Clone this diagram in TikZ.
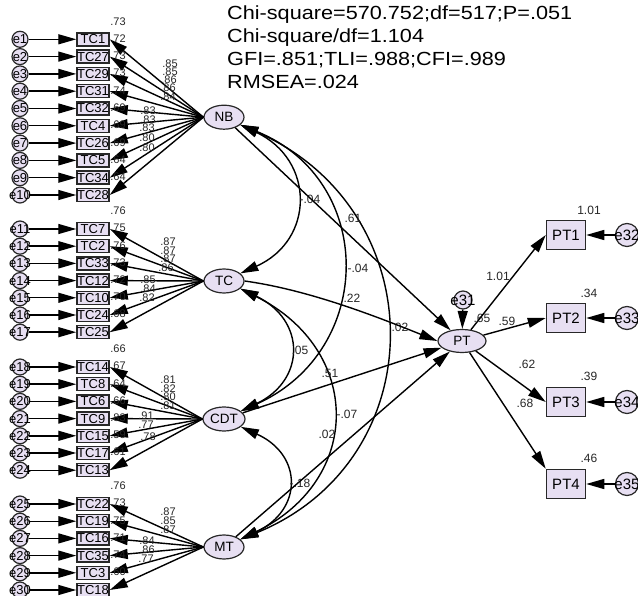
\documentclass[tikz,border=0pt]{standalone}
\usepackage{fontspec}
\setmainfont{Liberation Sans}
\newfontfamily\headfont[FakeStretch=1.14]{Liberation Sans}
\usetikzlibrary{calc}
\usetikzlibrary{shapes.geometric}
\usetikzlibrary{arrows.meta,positioning}

\definecolor{lav}{RGB}{231,223,242}
\definecolor{rim}{RGB}{40,40,40}

\tikzset{
  latent/.style={ellipse,draw=rim,line width=1.2pt,fill=lav,minimum width=40pt,minimum height=24pt,inner sep=0pt,font=\fontsize{13.5}{13.5}\selectfont},
  item/.style={rectangle,draw=rim,line width=1.5pt,fill=lav,minimum width=32pt,minimum height=13pt,inner sep=0pt,font=\fontsize{13}{13}\selectfont},
  pitem/.style={item,minimum width=39pt,minimum height=29pt,font=\fontsize{15}{15}\selectfont},
  err/.style={circle,draw=rim,line width=1.2pt,fill=lav,minimum size=16pt,inner sep=0pt,label={[font=\fontsize{13}{13}\selectfont]center:#1}},
  perr/.style={circle,draw=rim,line width=1.2pt,fill=lav,minimum size=23pt,inner sep=0pt,label={[font=\fontsize{15}{15}\selectfont]center:#1}},
  num/.style={inner sep=0pt,text=black!85,font=\fontsize{11}{11}\selectfont},
  pnum/.style={num,font=\fontsize{12}{12}\selectfont},
  hd/.style={anchor=base west,inner sep=0pt,font=\headfont\fontsize{19}{23}\selectfont},
  load/.style={-{Triangle[length=18pt,width=10pt]},line width=1.4pt},
  cov/.style={{Triangle[length=18pt,width=10pt]}-{Triangle[length=18pt,width=10pt]},line width=1.4pt},
}

\begin{document}
\begin{tikzpicture}[x=1pt,y=-1pt]

\useasboundingbox (0,0) rectangle (638,596);

%fit indices
\node[hd] (chi) at (227,19.3) {Chi-square=570.752;df=517;P=.051};
\node[hd] (ratio) at ($(chi.base west)+(0,23)$) {Chi-square/df=1.104};
\node[hd] (gfi) at ($(ratio.base west)+(0,23)$) {GFI=.851;TLI=.988;CFI=.989};
\node[hd] (rmsea) at ($(gfi.base west)+(0,23)$) {RMSEA=.024};

%latent factors
\node[latent] (NB) at (224,117.2) {NB};
\node[latent] (TC) at (224,281) {TC};
\node[latent,minimum width=42pt] (CDT) at (224,419) {CDT};
\node[latent] (MT) at (224,547) {MT};
\node[latent,minimum width=48pt,minimum height=23pt] (PT) at (462,341) {PT};

%%%%%%%

%items of NB
\foreach \nm/\ee/\rr/\lo/\lx/\ly [count=\k from 0] in {TC1/e1/.73/.85/170/64,TC27/e2/.72/.85/170/72,TC29/e3/.73/.86/169/80,TC31/e4/.73/.86/168/88,TC32/e5/.74/.84/168/97,TC4/e6/.69/.83/148/111,TC26/e7/.69/.83/148/119.5,TC5/e8/.69/.83/147/128,TC34/e9/.64/.80/147/138,TC28/e10/.64/.80/147/148}{
  \pgfmathsetmacro\y{39.3+17.3*\k}
  \node[item] (\nm) at (93,\y) {\nm};
  \node[err=\ee] (\ee) at (20,\y) {};
  \draw[load] (\ee) -- (\nm);
  \draw[load] (NB.west) -- (\nm.east);
  \node[num] at (118,\y-18) {\rr};
  \node[num] at (\lx,\ly) {\lo};
}

%items of TC
\foreach \nm/\ee/\rr/\lo/\lx/\ly [count=\k from 0] in {TC7/e11/.76/.87/168/242,TC2/e12/.75/.87/168/250.5,TC33/e13/.76/.87/168/259,TC12/e14/.73/.86/166/268,TC10/e15/.72/.85/148/280,TC24/e16/.70/.84/148/289,TC25/e17/.68/.82/147/298}{
  \pgfmathsetmacro\y{229+17.2*\k}
  \node[item] (\nm) at (93,\y) {\nm};
  \node[err=\ee] (\ee) at (20,\y) {};
  \draw[load] (\ee) -- (\nm);
  \draw[load] (TC.west) -- (\nm.east);
  \node[num] at (118,\y-18) {\rr};
  \node[num] at (\lx,\ly) {\lo};
}

%items of CDT
\foreach \nm/\ee/\rr/\lo/\lx/\ly [count=\k from 0] in {TC14/e18/.66/.81/168/380,TC8/e19/.67/.82/168/388.5,TC6/e20/.64/.80/168/397,TC9/e21/.66/.81/168/405.5,TC15/e22/.83/.91/146/416,TC17/e23/.59/.77/146/425,TC13/e24/.61/.78/148/437}{
  \pgfmathsetmacro\y{367+17.2*\k}
  \node[item] (\nm) at (93,\y) {\nm};
  \node[err=\ee] (\ee) at (20,\y) {};
  \draw[load] (\ee) -- (\nm);
  \draw[load] (CDT.west) -- (\nm.east);
  \node[num] at (118,\y-18) {\rr};
  \node[num] at (\lx,\ly) {\lo};
}

%items of MT
\foreach \nm/\ee/\rr/\lo/\lx/\ly [count=\k from 0] in {TC22/e25/.76/.87/168/512,TC19/e26/.73/.85/168/521,TC16/e27/.75/.87/168/530,TC35/e28/.71/.84/147/541,TC3/e29/.74/.86/147/550,TC18/e30/.60/.77/146/559}{
  \pgfmathsetmacro\y{504+17.2*\k}
  \node[item] (\nm) at (93,\y) {\nm};
  \node[err=\ee] (\ee) at (20,\y) {};
  \draw[load] (\ee) -- (\nm);
  \draw[load] (MT.west) -- (\nm.east);
  \node[num] at (118,\y-18) {\rr};
  \node[num] at (\lx,\ly) {\lo};
}

%covariances between the factors
\draw[cov] (NB.-25) .. controls (315,160) and (315,240) .. (TC.25);
\draw[cov] (NB.-25) .. controls (376,180) and (376,350) .. (CDT.25);
\draw[cov] (NB.-25) .. controls (435,210) and (435,460) .. (MT.25);
\draw[cov] (TC.-25) .. controls (306,320) and (306,380) .. (CDT.25);
\draw[cov] (TC.-25) .. controls (363,350) and (363,480) .. (MT.25);
\draw[cov] (CDT.-25) .. controls (303,455) and (303,510) .. (MT.25);
\node[pnum] at (310,199) {-.04};
\node[pnum] at (358,268) {-.04};
\node[pnum] at (400,327) {.02};
\node[pnum] at (300,350) {.05};
\node[pnum] at (347,414) {-.07};
\node[pnum] at (300,483) {-.18};

%paths to PT
\draw[load] (NB) -- (PT);
\draw[load] (TC.east) .. controls (310,290) and (380,318) .. (PT.west);
\draw[load] (CDT) -- (PT);
\draw[load] (MT) -- (PT);
\node[pnum] at (353,218) {.61};
\node[pnum] at (352,298) {.22};
\node[pnum] at (330,373) {.51};
\node[pnum] at (327,434) {.02};

%PT and its indicators
\node[circle,draw=rim,line width=1.2pt,fill=lav,minimum size=18pt,inner sep=0pt,label={[font=\fontsize{15}{15}\selectfont]center:e31}] (e31) at (463,300) {};
\draw[load] (e31) -- (PT);
\node[pnum] at (482,318) {.65};

\node[pitem] (PT1) at (566,235) {PT1};
\node[pitem] (PT2) at (566,318) {PT2};
\node[pitem] (PT3) at (566,402) {PT3};
\node[pitem] (PT4) at (566,484) {PT4};

\node[perr=e32] (e32) at (627,235) {};
\node[perr=e33] (e33) at (627,318) {};
\node[perr=e34] (e34) at (627,402) {};
\node[perr=e35] (e35) at (627,484) {};

\draw[load] (PT) -- (PT1.west);
\draw[load] (PT) -- (PT2.west);
\draw[load] (PT) -- (PT3.west);
\draw[load] (PT) -- (PT4.north west);
\draw[load] (e32) -- (PT1);
\draw[load] (e33) -- (PT2);
\draw[load] (e34) -- (PT3);
\draw[load] (e35) -- (PT4);

\node[pnum] at (498,276) {1.01};
\node[pnum] at (507,321) {.59};
\node[pnum] at (527,364) {.62};
\node[pnum] at (525,403) {.68};
\node[pnum] at (589,210) {1.01};
\node[pnum] at (589,293) {.34};
\node[pnum] at (589,376) {.39};
\node[pnum] at (589,458) {.46};

\end{tikzpicture}
\end{document}
